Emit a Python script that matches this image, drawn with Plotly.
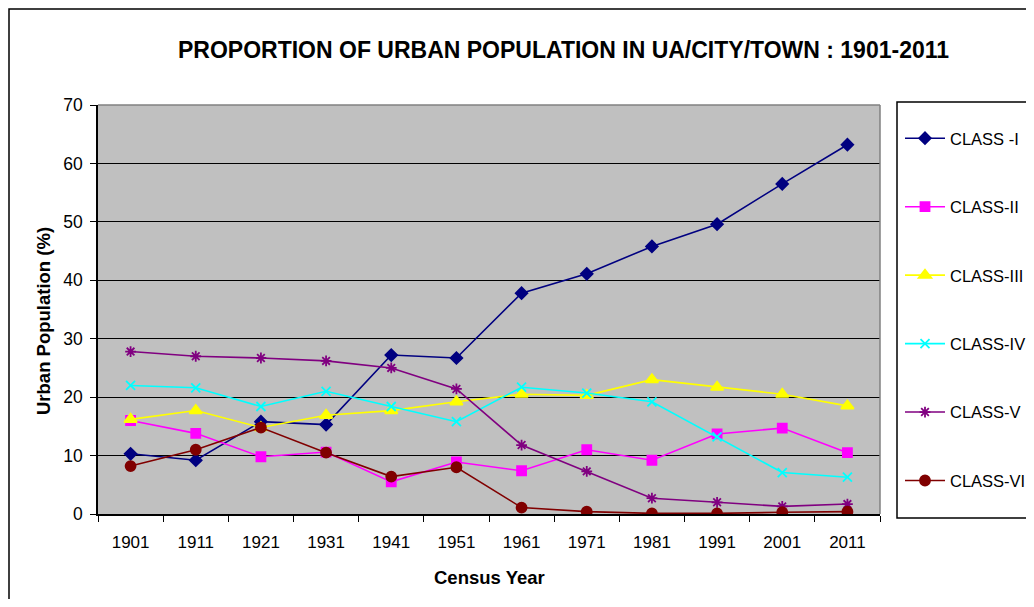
import plotly.graph_objects as go

years = ["1901", "1911", "1921", "1931", "1941", "1951", "1961", "1971", "1981", "1991", "2001", "2011"]
class_1 = [10.3, 9.2, 15.8, 15.3, 27.2, 26.7, 37.8, 41.1, 45.8, 49.6, 56.5, 63.2]
class_2 = [16.0, 13.8, 9.8, 10.6, 5.5, 8.9, 7.4, 11.0, 9.2, 13.7, 14.7, 10.5]
class_3 = [16.2, 17.7, 14.8, 16.9, 17.7, 19.2, 20.5, 20.3, 23.0, 21.7, 20.5, 18.5]
class_4 = [22.0, 21.6, 18.4, 21.0, 18.4, 15.8, 21.7, 20.7, 19.2, 13.2, 7.1, 6.3]
class_5 = [27.8, 27.0, 26.7, 26.2, 25.0, 21.4, 11.8, 7.3, 2.7, 2.0, 1.3, 1.7]
class_6 = [8.2, 11.0, 14.8, 10.5, 6.4, 8.0, 1.1, 0.4, 0.1, 0.1, 0.3, 0.4]
names = ["CLASS -I", "CLASS-II", "CLASS-III", "CLASS-IV", "CLASS-V", "CLASS-VI"]

series = [class_1, class_2, class_3, class_4, class_5, class_6]
colors = ["#000080", "#FF00FF", "#FFFF00", "#00FFFF", "#800080", "#800000"]
symbols = ["diamond", "square", "triangle-up", "x-thin-open", "asterisk-open", "circle"]
sizes = [9, 9, 11, 9, 9, 10]

# page offset: the html body has an 8px margin on every side
OFF = 8
W, H = 1034 - 2 * OFF, 607 - 2 * OFF
# plot area in page pixel coordinates
L, R, T, B = 98, 880, 105, 514

fig = go.Figure()
for i, (vals, nm) in enumerate(zip(series, names)):
    fig.add_trace(go.Scatter(
        x=years, y=vals, name=nm, mode="lines+markers",
        legendgroup="g%d" % i,
        line=dict(color=colors[i], width=1.6),
        marker=dict(symbol=symbols[i], size=sizes[i], color=colors[i],
                    line=dict(color=colors[i], width=1.8)),
    ))

def px(xp):
    return (xp - L) / (R - L)

def py(yp):
    return (B - yp) / (B - T)

def cx(xp):
    return (xp - OFF) / W

def cy(yp):
    return 1 - (yp - OFF) / H

shapes = [
    # outer chart border
    dict(type="rect", xref="paper", yref="paper", x0=px(9), x1=px(1100), y0=py(700), y1=py(9),
         line=dict(color="black", width=1.5), layer="below"),
    # plot area border (top / right in gray)
    dict(type="line", xref="paper", yref="paper", x0=0, x1=1, y0=1, y1=1,
         line=dict(color="#808080", width=1.5)),
    dict(type="line", xref="paper", yref="paper", x0=1, x1=1, y0=0, y1=1,
         line=dict(color="#808080", width=1.5)),
    # legend box
    dict(type="rect", xref="paper", yref="paper", x0=px(897), x1=px(1100), y0=py(518), y1=py(102),
         line=dict(color="black", width=1.5), fillcolor="white"),
]

fig.update_layout(
    width=W, height=H, autosize=False,
    margin=dict(l=L - OFF, r=W - (R - OFF), t=T - OFF, b=H - (B - OFF), pad=0),
    paper_bgcolor="white",
    plot_bgcolor="#C0C0C0",
    font=dict(family="Liberation Sans, Arial, sans-serif", color="black", size=17),
    shapes=shapes,
    annotations=[
        dict(text="<b>PROPORTION OF URBAN POPULATION IN UA/CITY/TOWN : 1901-2011</b>",
             xref="paper", yref="paper", x=px(563), y=py(50), showarrow=False,
             font=dict(size=23), xanchor="center", yanchor="middle"),
        dict(text="<b>Census Year</b>", xref="paper", yref="paper", x=px(489), y=py(577),
             showarrow=False, font=dict(size=18.5), xanchor="center", yanchor="middle"),
        dict(text="<b>Urban Population (%)</b>", xref="paper", yref="paper", x=px(43), y=py(321),
             showarrow=False, font=dict(size=18.5), textangle=-90,
             xanchor="center", yanchor="middle"),
    ],
    legend=dict(xref="container", yref="container", x=cx(900), y=cy(121),
                xanchor="left", yanchor="top", maxheight=560,
                bgcolor="rgba(0,0,0,0)", borderwidth=0,
                font=dict(size=16.5), tracegroupgap=44, itemwidth=40,
                traceorder="grouped"),
    xaxis=dict(
        type="category", tickson="boundaries", ticks="outside", ticklen=6,
        tickcolor="black", showline=True, linecolor="black", linewidth=1.5,
        showgrid=False, tickfont=dict(size=17), range=[-0.5, 11.5],
        ticklabelstandoff=12,
    ),
    yaxis=dict(
        range=[0, 70], dtick=10, ticks="outside", ticklen=6, tickcolor="black",
        showline=True, linecolor="black", linewidth=1.5,
        showgrid=True, gridcolor="black", gridwidth=1.2, zeroline=False,
        tickfont=dict(size=17.5), ticklabelstandoff=4,
    ),
)

fig.write_html("out.html")
